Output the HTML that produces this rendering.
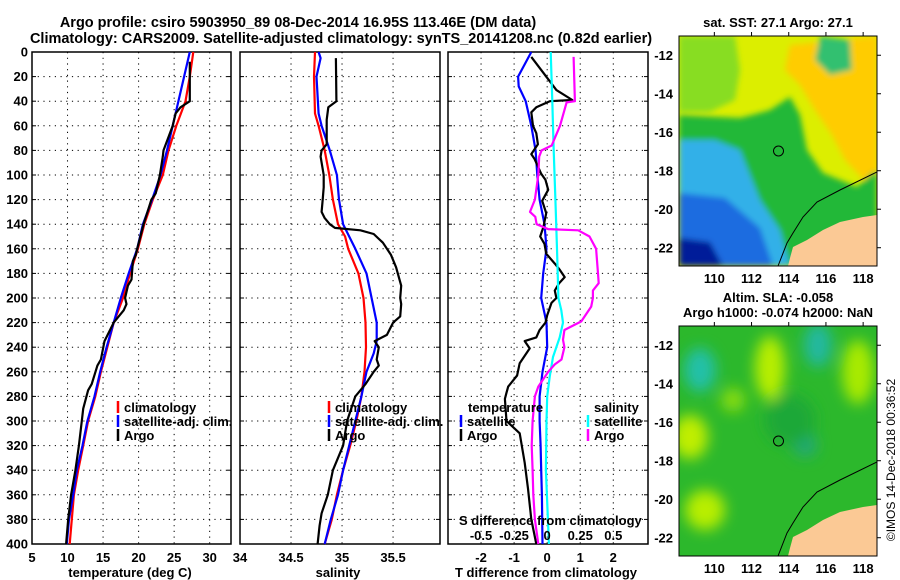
<!DOCTYPE html>
<html><head><meta charset="utf-8">
<style>
html,body{margin:0;padding:0;background:#fff;}
svg{display:block;font-family:"Liberation Sans",Arial,sans-serif;font-weight:bold;}
</style></head>
<body>
<svg id="chart" width="900" height="580" viewBox="0 0 900 580" xmlns="http://www.w3.org/2000/svg">
<defs>
<filter id="blur3" x="-20%" y="-20%" width="140%" height="140%"><feGaussianBlur stdDeviation="3"/></filter>
<filter id="blur6" x="-30%" y="-30%" width="160%" height="160%"><feGaussianBlur stdDeviation="7"/></filter>
<clipPath id="clipSST"><rect x="679" y="36" width="198" height="230"/></clipPath>
<clipPath id="clipSLA"><rect x="679" y="326" width="198" height="230"/></clipPath>
</defs>
<g id="titles">
<text x="298" y="27" font-size="14.5" text-anchor="middle">Argo profile: csiro 5903950_89 08-Dec-2014 16.95S 113.46E (DM data)</text>
<text x="341" y="43" font-size="14.5" text-anchor="middle">Climatology: CARS2009. Satellite-adjusted climatology: synTS_20141208.nc (0.82d earlier)</text>
</g>
<g id="plots"></g>
<g id="sst-map">
<g clip-path="url(#clipSST)">
<rect x="679" y="36" width="198" height="230" fill="#dcee00"/>
<g filter="url(#blur3)">
<polygon points="790,45 877,36 877,200 862,178 845,160 832,135 815,110 800,85 785,70" fill="#ffcc00"/>
<polygon points="679,36 735,36 740,70 735,100 710,112 679,112" fill="#88dd20"/>
<polygon points="820,36 850,40 852,70 830,75 815,60" fill="#30c070"/>
<polygon points="679,115 740,118 752,115 770,110 790,97 800,115 807,150 823,173 857,187 873,172 877,172 877,225 790,266 679,266" fill="#22b838"/>
<polygon points="679,140 715,140 740,150 760,200 780,230 790,266 679,266" fill="#33b0e8"/>
<polygon points="679,193 725,198 760,228 773,266 679,266" fill="#1a6ce0"/>
<polygon points="679,238 710,242 723,266 679,266" fill="#001a99"/>
</g>
<polygon points="877,215 863,217 840,222 823,230 807,240 793,247 790,258 788,266 877,266" fill="#fbc995"/>
<polyline points="877,172 840,190 817,202 803,217 793,233 787,243 778,266" fill="none" stroke="#000" stroke-width="1"/>
</g>
<rect x="679" y="36" width="198" height="230" fill="none" stroke="#000" stroke-width="1"/>
<circle cx="778.5" cy="151" r="5" fill="none" stroke="#000" stroke-width="1"/>
<text x="778" y="27" font-size="13" text-anchor="middle">sat. SST: 27.1 Argo: 27.1</text>
</g>
<g id="sla-map">
<g clip-path="url(#clipSLA)">
<rect x="679" y="326" width="198" height="230" fill="#2cb82c"/>
<g filter="url(#blur6)">
<ellipse cx="770" cy="368" rx="15" ry="32" fill="#b8ee00"/>
<ellipse cx="858" cy="372" rx="16" ry="32" fill="#a8ea00"/>
<ellipse cx="690" cy="437" rx="18" ry="22" fill="#c0ee00"/>
<ellipse cx="705" cy="510" rx="20" ry="20" fill="#b8ee00"/>
<ellipse cx="733" cy="400" rx="12" ry="12" fill="#88dd10"/>
<ellipse cx="700" cy="370" rx="16" ry="22" fill="#20c0a8"/>
<ellipse cx="818" cy="345" rx="14" ry="22" fill="#20b8a0"/>
<ellipse cx="805" cy="445" rx="12" ry="12" fill="#22a878"/>
<ellipse cx="790" cy="420" rx="25" ry="25" fill="#1ea838"/>
</g>
<polygon points="877,505 863,507 840,512 823,520 807,530 793,537 790,548 788,556 877,556" fill="#fbc995"/>
<polyline points="877,462 840,480 817,492 803,507 793,523 787,533 778,556" fill="none" stroke="#000" stroke-width="1"/>
</g>
<rect x="679" y="326" width="198" height="230" fill="none" stroke="#000" stroke-width="1"/>
<circle cx="778.5" cy="441" r="5" fill="none" stroke="#000" stroke-width="1"/>
<text x="778" y="302" font-size="13" text-anchor="middle">Altim. SLA: -0.058</text>
<text x="778" y="317" font-size="13" text-anchor="middle">Argo h1000: -0.074 h2000: NaN</text>
</g>
<text transform="translate(895,460) rotate(-90)" font-size="12" font-weight="normal" text-anchor="middle">©IMOS 14-Dec-2018 00:36:52</text>
</svg>
<script>
const depthTicks = [0,20,40,60,80,100,120,140,160,180,200,220,240,260,280,300,320,340,360,380,400];
const tempTicks = [5,10,15,20,25,30];
const climTDepth = [0,20,40,60,80,100,120,140,160,180,200,220,240,260,280,300,320,340,360,380,400];
const climT = [27.7,27.2,26.6,25.3,24.2,23.4,22.0,20.8,19.9,18.8,17.8,16.5,15.6,14.7,13.9,12.9,12.2,11.5,10.9,10.6,10.3];
const satTDepth = [0,20,40,60,80,100,120,140,160,180,200,220,240,260,280,300,320,340,360,380,400];
const satT = [27.2,26.4,25.6,24.8,24.0,23.1,21.9,20.6,19.8,18.6,17.5,16.5,15.5,14.6,13.8,12.8,12.1,11.3,10.8,10.2,9.9];
const argoTDepth = [8,40,45,50,60,80,85,100,115,120,140,160,165,170,185,190,200,205,210,220,235,250,255,270,275,290,300,320,340,360,380,400];
const argoT = [27.2,27.2,25.9,25.2,24.8,23.5,23.4,23.0,22.4,21.8,20.7,19.8,19.6,19.2,19.0,18.5,18.1,18.3,17.9,16.5,15.2,14.7,14.2,13.4,12.9,12.2,12.0,11.6,11.1,10.5,10.1,9.8];
const salTicks = [34,34.5,35,35.5];
const climSDepth = [0,20,50,60,80,100,120,140,150,160,180,200,220,240,260,280,300,320,340,360,380,400];
const climS = [34.735,34.725,34.735,34.77,34.83,34.875,34.91,34.96,35.03,35.06,35.16,35.21,35.23,35.235,35.22,35.19,35.14,35.08,35.01,34.95,34.9,34.83];
const satSDepth = [0,5,20,50,60,80,100,120,140,160,180,200,220,235,245,260,280,300,320,340,360,380,400];
const satS = [34.77,34.79,34.75,34.77,34.8,34.88,34.95,34.97,35.01,35.13,35.24,35.29,35.34,35.34,35.31,35.24,35.19,35.13,35.07,35.01,34.96,34.89,34.83];
const argoSDepth = [5,40,45,55,75,80,85,100,110,120,130,135,140,143,145,148,155,165,175,190,200,205,215,220,230,235,240,250,255,260,270,275,280,300,320,330,340,360,375,385,400];
const argoS = [34.94,34.945,34.865,34.85,34.85,34.8,34.79,34.82,34.82,34.81,34.8,34.83,34.88,34.93,35.18,35.31,35.4,35.48,35.53,35.58,35.57,35.58,35.57,35.5,35.44,35.32,35.36,35.34,35.36,35.31,35.23,35.18,35.13,35.05,35.01,34.96,34.91,34.86,34.8,34.78,34.76];
const tDiffTicks = [-2,-1,0,1,2];
const tDiffLabels = ['-2','-1','0','1','2'];
const sDiffTicks = [-0.5,-0.25,0,0.25,0.5];
const sDiffLabels = ['-0.5','-0.25','0','0.25','0.5'];
const satTdDepth = [0,20,28,40,60,80,100,120,140,160,180,200,220,240,260,280,300,320,340,360,380,400];
const satTd = [-0.48,-0.88,-0.86,-0.65,-0.48,-0.35,-0.3,-0.23,-0.08,-0.02,-0.12,-0.18,-0.02,0.0,-0.14,-0.23,-0.23,-0.2,-0.18,-0.16,-0.15,-0.14];
const argoTdDepth = [4,20,31,39,40,45,49,60,66,75,83,87,93,99,104,112,121,131,142,150,156,164,172,177,183,188,194,200,204,214,220,226,232,235,241,253,263,272,277,282,300,310,334,355,380,400];
const argoTd = [-0.48,-0.03,0.28,0.76,0.08,-0.33,-0.48,-0.43,-0.33,-0.28,-0.48,-0.38,-0.28,-0.18,-0.05,0.03,-0.15,-0.03,-0.11,-0.21,-0.08,-0.03,0.23,0.38,0.53,0.36,0.23,0.28,0.13,0.0,-0.05,-0.23,-0.33,-0.68,-0.53,-0.83,-0.91,-1.18,-1.23,-1.28,-1.23,-0.83,-0.68,-0.58,-0.48,-0.33];
const satSdDepth = [0,40,80,120,160,200,210,220,232,248,264,280,300,340,400];
const satSd = [0.027,0.039,0.049,0.062,0.074,0.085,0.107,0.12,0.095,0.044,0.019,0.0,-0.005,-0.01,0.013];
const argoSdDepth = [4,40,41,60,76,80,85,100,120,130,134,140,144,145,150,160,180,188,194,200,207,219,226,234,240,250,254,260,272,280,300,320,340,360,380,400];
const argoSd = [0.2,0.21,0.147,0.097,0.034,-0.042,-0.06,-0.067,-0.093,-0.13,-0.09,-0.08,0.008,0.235,0.32,0.37,0.384,0.39,0.346,0.346,0.333,0.258,0.13,0.12,0.13,0.108,0.058,0.008,-0.067,-0.093,-0.11,-0.117,-0.11,-0.105,-0.093,-0.067];
const lonTicks = [110,112,114,116,118];
const latTicks = [-12,-14,-16,-18,-20,-22];

const NS='http://www.w3.org/2000/svg';
const root=document.getElementById('plots');
function mk(tag,attrs,parent){const e=document.createElementNS(NS,tag);for(const k in attrs)e.setAttribute(k,attrs[k]);(parent||root).appendChild(e);return e;}
const Y0=52, Y1=544;
function yD(d){return Y0+(d/400)*(Y1-Y0);}

function panel(name,x0,x1,vmin,vmax,ticks,labels,showY){
  const g=mk('g',{});
  
  
  const xs=v=>x0+(v-vmin)/(vmax-vmin)*(x1-x0);
  depthTicks.forEach(d=>{
    if(d>0&&d<400){mk('line',{x1:x0,x2:x1,y1:yD(d),y2:yD(d),stroke:'#000','stroke-width':1,'stroke-dasharray':'1.2,4.5'},g);}
    mk('line',{x1:x0,x2:x0+4,y1:yD(d),y2:yD(d),stroke:'#000'},g);
    mk('line',{x1:x1-4,x2:x1,y1:yD(d),y2:yD(d),stroke:'#000'},g);
    if(showY){const t=mk('text',{x:x0-4,y:yD(d)+4.5,'font-size':13,'text-anchor':'end'},g);t.textContent=d;
      
      }
  });
  ticks.forEach((v,i)=>{
    const x=xs(v);
    if(x>x0+1&&x<x1-1)mk('line',{x1:x,x2:x,y1:Y0,y2:Y1,stroke:'#000','stroke-dasharray':'1.2,4.5'},g);
    if(labels){const t=mk('text',{x:x,y:562,'font-size':13,'text-anchor':'middle',fill:'#000'},g);t.textContent=labels[i];
      
      }
  });
  mk('rect',{x:x0,y:Y0,width:x1-x0,height:Y1-Y0,fill:'none',stroke:'#000','stroke-width':1.5},g);
  return {g,xs};
}
function series(p,vals,depths,color,name){
  const n=Math.min(vals.length,depths.length);
  const pts=vals.slice(0,n).map((v,i)=>p.xs(v).toFixed(1)+','+yD(depths[i]).toFixed(1)).join(' ');
  const l=mk('polyline',{points:pts,fill:'none',stroke:color,'stroke-width':2.2,'stroke-linejoin':'round'},p.g);
  
  
}
function legendItem(g,x,y,color,label,name){
  mk('line',{x1:x,x2:x,y1:y-11,y2:y+1,stroke:color,'stroke-width':2.5},g);
  const t=mk('text',{x:x+6,y:y,'font-size':13},g);t.textContent=label;
  
  
}
const p1=panel('temperature-panel',32,231,5,33,tempTicks,tempTicks.map(String),true);
series(p1,climT,climTDepth,'#f00','temperature-climatology-line');
series(p1,satT,satTDepth,'#00f','temperature-satellite-line');
series(p1,argoT,argoTDepth,'#000','temperature-argo-line');
legendItem(p1.g,118,412,'#f00','climatology','legend-climatology');
legendItem(p1.g,118,426,'#00f','satellite-adj. clim.','legend-satellite');
legendItem(p1.g,118,440,'#000','Argo','legend-argo');
let t=mk('text',{x:130,y:577,'font-size':13,'text-anchor':'middle'});t.textContent='temperature (deg C)';


const p2=panel('salinity-panel',240,440,34,35.96,salTicks,salTicks.map(String),false);
series(p2,climS,climSDepth,'#f00','salinity-climatology-line');
series(p2,satS,satSDepth,'#00f','salinity-satellite-line');
series(p2,argoS,argoSDepth,'#000','salinity-argo-line');
legendItem(p2.g,329,412,'#f00','climatology','legend-climatology-s');
legendItem(p2.g,329,426,'#00f','satellite-adj. clim.','legend-satellite-s');
legendItem(p2.g,329,440,'#000','Argo','legend-argo-s');
t=mk('text',{x:338,y:577,'font-size':13,'text-anchor':'middle'});t.textContent='salinity';


const p3=panel('difference-panel',448,648,-3,3.05,tDiffTicks,tDiffLabels,false);
const pS={g:p3.g,xs:v=>p3.xs(v*4)};
series(p3,satTd,satTdDepth,'#00f','t-diff-satellite-line');
series(p3,argoTd,argoTdDepth,'#000','t-diff-argo-line');
series(pS,satSd,satSdDepth,'#0ff','s-diff-satellite-line');
series(pS,argoSd,argoSdDepth,'#f0f','s-diff-argo-line');
t=mk('text',{x:468,y:412,'font-size':13},p3.g);t.textContent='temperature';


legendItem(p3.g,461,426,'#00f','satellite','legend-t-satellite');
legendItem(p3.g,461,440,'#000','Argo','legend-t-argo');
t=mk('text',{x:594,y:412,'font-size':13},p3.g);t.textContent='salinity';


legendItem(p3.g,588,426,'#0ff','satellite','legend-s-satellite');
legendItem(p3.g,588,440,'#f0f','Argo','legend-s-argo');
t=mk('text',{x:459,y:525,'font-size':13},p3.g);t.textContent='S difference from climatology';


sDiffTicks.forEach((v,i)=>{const s=mk('text',{x:pS.xs(v),y:540,'font-size':13,'text-anchor':'middle'},p3.g);s.textContent=sDiffLabels[i];
  
  });
t=mk('text',{x:546,y:577,'font-size':13,'text-anchor':'middle'});t.textContent='T difference from climatology';


const svg=document.getElementById('chart');
function mapAxes(y0,y1,name){
  const g=document.createElementNS(NS,'g');svg.appendChild(g);
  
  
  const lx=v=>679+(v-108.1)*18.6, ly=v=>y0+(-11-v)/(11.95)*(y1-y0);
  lonTicks.forEach(v=>{mk('line',{x1:lx(v),x2:lx(v),y1:y0-4,y2:y0,stroke:'#000'},g);
    const s=mk('text',{x:lx(v),y:y1+17,'font-size':13,'text-anchor':'middle'},g);s.textContent=v;
    
    });
  latTicks.forEach(v=>{mk('line',{x1:877,x2:881,y1:ly(v),y2:ly(v),stroke:'#000'},g);
    const s=mk('text',{x:673,y:ly(v)+5,'font-size':13,'text-anchor':'end'},g);s.textContent=v;
    
    });
}
mapAxes(36,266,'sst-map-axes');
mapAxes(326,556,'sla-map-axes');
</script>
</body></html>
